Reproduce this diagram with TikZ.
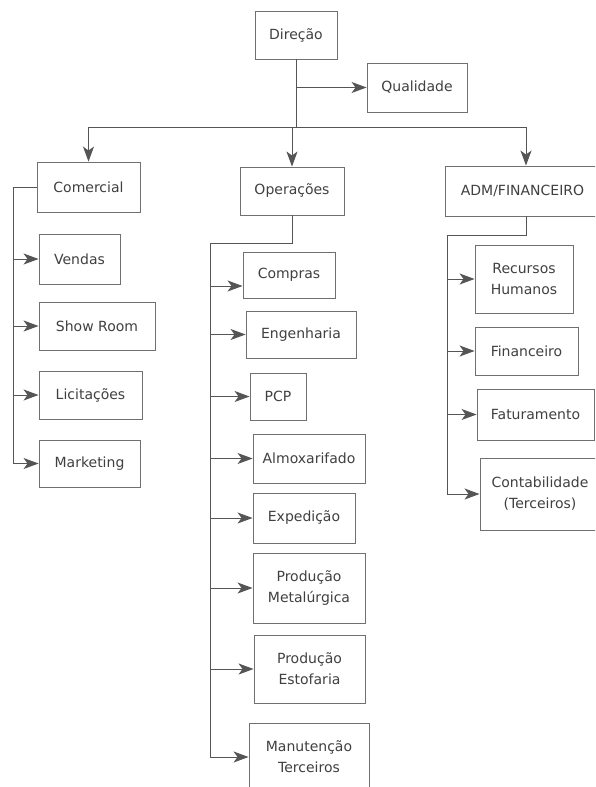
\documentclass[tikz,border=0pt]{standalone}
\usepackage{fontspec}
\setmainfont{DejaVu Sans}
\usetikzlibrary{arrows.meta}
\definecolor{boxc}{HTML}{707070}
\definecolor{linec}{HTML}{555555}
\definecolor{txtc}{HTML}{404040}
\newcommand\orgbox[6]{\node[box,minimum width=#4pt,minimum height=#5pt] (#1) at (#2,#3) {#6};}
\begin{document}
\begin{tikzpicture}[x=1pt,y=-1pt,
  box/.style={draw=boxc, line width=0.9pt, inner sep=0pt, align=center, text=txtc,
    font=\fontsize{14}{21}\selectfont},
  link/.style={draw=linec, line width=1pt},
  arr/.style={link, -{Stealth[length=15pt,width=11pt,inset=4pt]}}]
\useasboundingbox (0,0) rectangle (595,787);
\clip (0,0) rectangle (595,787);
\fill[white] (0,0) rectangle (595,787);
% top level
\orgbox{dir}{296}{35}{82}{48}{Direção}
\orgbox{qual}{417}{87.5}{100}{49}{Qualidade}
\orgbox{com}{88.5}{187}{103}{50}{Comercial}
\orgbox{ops}{292}{191}{104}{48}{Operações}
\orgbox{adm}{522.5}{191}{155}{50}{ADM/FINANCEIRO}
% comercial
\orgbox{vendas}{79.5}{259}{81}{50}{Vendas}
\orgbox{show}{97}{326}{116}{48}{Show Room}
\orgbox{licit}{90.5}{395}{103}{48}{Licitações}
\orgbox{mkt}{89.5}{463.5}{101}{47}{Marketing}
% operacoes
\orgbox{compras}{289}{275}{92}{46}{Compras}
\orgbox{eng}{301}{334.5}{110}{47}{Engenharia}
\orgbox{pcp}{278}{396.5}{56}{47}{PCP}
\orgbox{almox}{309}{458.5}{112}{49}{Almoxarifado}
\orgbox{exped}{304}{518}{102}{50}{Expedição}
\orgbox{metal}{309}{588}{112}{70}{Produção\\Metalúrgica}
\orgbox{estof}{309.5}{669}{111}{68}{Produção\\Estofaria}
\orgbox{manut}{309}{757}{120}{68}{Manutenção\\Terceiros}
% adm
\orgbox{rh}{524}{279}{98}{68}{Recursos\\Humanos}
\orgbox{fin}{526.5}{351}{103}{48}{Financeiro}
\orgbox{fat}{535.5}{414.5}{117}{51}{Faturamento}
\orgbox{cont}{540}{494}{120}{72}{Contabilidade\\(Terceiros)}
% top connectors
\coordinate (barL) at (88.5,127);
\coordinate (barM) at (296,127);
\coordinate (barO) at (292,127);
\coordinate (barR) at (526,127);
\coordinate (qj) at (296,87.5);
\draw[link] (dir.south) -- (barM);
\draw[arr] (qj) -- (qual.west);
\draw[link] (barL) -- (barR);
\draw[arr] (barL) -- (com.north);
\draw[arr] (barO) -- (ops.north);
\draw[arr] (barR) -- (barR |- adm.north);
% comercial
\coordinate (cEnd) at (13,463.5);
\draw[link] (com.west) -| (cEnd);
\draw[arr] (cEnd |- vendas.west) -- (vendas.west);
\draw[arr] (cEnd |- show.west) -- (show.west);
\draw[arr] (cEnd |- licit.west) -- (licit.west);
\draw[arr] (cEnd) -- (mkt.west);
% operacoes
\coordinate (oK) at (292,243);
\coordinate (oEnd) at (210,757);
\coordinate (cpIn) at ([yshift=-11pt]compras.west);
\draw[link] (ops.south) -- (oK) -| (oEnd);
\draw[arr] (oEnd |- cpIn) -- (cpIn);
\draw[arr] (oEnd |- eng.west) -- (eng.west);
\draw[arr] (oEnd |- pcp.west) -- (pcp.west);
\draw[arr] (oEnd |- almox.west) -- (almox.west);
\draw[arr] (oEnd |- exped.west) -- (exped.west);
\draw[arr] (oEnd |- metal.west) -- (metal.west);
\draw[arr] (oEnd |- estof.west) -- (estof.west);
\draw[arr] (oEnd) -- (manut.west);
% adm
\coordinate (aK) at (526,235);
\coordinate (aEnd) at (447,494);
\draw[link] (aK |- adm.south) -- (aK) -| (aEnd);
\draw[arr] (aEnd |- rh.west) -- (rh.west);
\draw[arr] (aEnd |- fin.west) -- (fin.west);
\draw[arr] (aEnd |- fat.west) -- (fat.west);
\draw[arr] (aEnd) -- (cont.west);
\end{tikzpicture}
\end{document}
